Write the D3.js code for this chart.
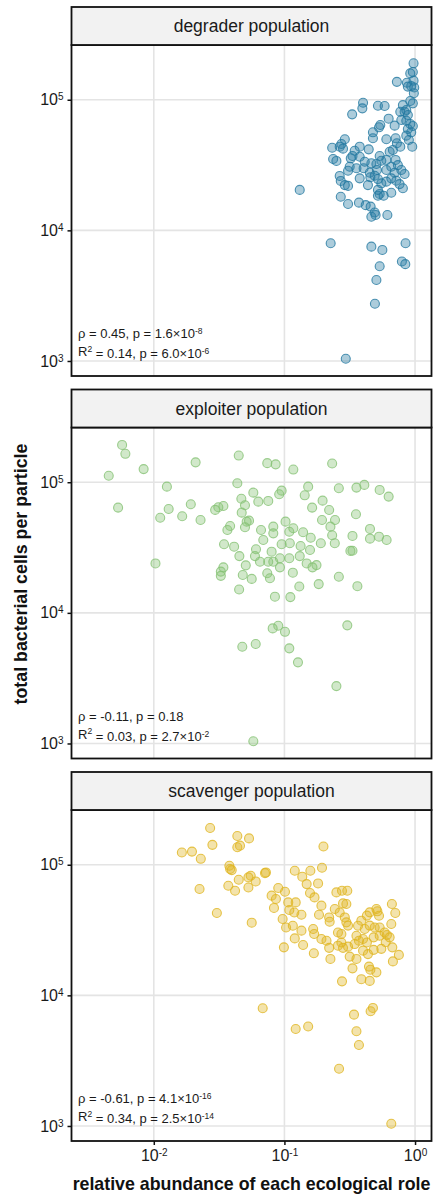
<!DOCTYPE html>
<html>
<head>
<meta charset="utf-8">
<script src="https://cdn.jsdelivr.net/npm/d3@7"></script>
<style>
  body { margin: 0; background: #fff; }
  svg { display: block; }
  text { font-family: "Liberation Sans", Arial, Helvetica, sans-serif; }
</style>
</head>
<body>
<svg id="chart" width="433" height="1194"></svg>
<script>
// ---- data -------------------------------------------------------------
const populations = ["degrader population", "exploiter population", "scavenger population"];
const popColors = ["#2479a1", "#86c274", "#e0b521"];

// relative abundance (x) and total cells per particle (y), one array pair per role
const degraderX = [0.974,0.919,0.962,0.866,0.974,0.726,0.935,0.986,0.881,0.979,
  0.919,0.400,0.395,0.330,0.520,0.585,0.807,0.962,0.771,0.832,
  0.881,0.628,0.698,0.785,0.857,0.919,0.962,0.881,0.935,0.857,
  0.542,0.530,0.476,0.476,0.603,0.710,0.726,0.771,0.677,0.639,
  0.290,0.273,0.265,0.232,0.281,0.442,0.377,0.345,0.332,0.322,
  0.377,0.236,0.250,0.536,0.552,0.506,0.463,0.603,0.710,0.739,
  0.785,0.832,0.316,0.307,0.356,0.404,0.450,0.491,0.520,0.552,
  0.265,0.270,0.290,0.307,0.377,0.436,0.455,0.603,0.658,0.718,
  0.761,0.807,0.520,0.536,0.520,0.575,0.658,0.131,0.270,0.307,
  0.372,0.419,0.457,0.491,0.614,0.658,0.698,0.412,0.603,0.511,
  0.857,0.897,0.952,0.463,0.499,0.226,0.463,0.562,0.846,0.793,
  0.842,0.536,0.506,0.493,0.295];
const degraderY = [190000,159000,163000,135000,140000,137000,127000,124000,126000,112000,
  97700,94800,85900,77300,90000,89500,91000,93800,80900,80900,
  76400,71600,63300,70000,69100,65200,62900,59700,56300,53100,
  64000,61500,56300,50700,49800,50700,46400,43700,41200,40000,
  49800,45800,43700,42900,42200,41700,43700,40700,37100,35600,
  36600,35200,34000,37100,34100,32200,32600,34600,34600,31600,
  29000,27000,30700,28600,29900,29900,27600,26200,24700,22900,
  26100,23900,22200,21900,25000,22200,25500,23600,25000,24000,
  22600,21000,20400,19000,18400,18400,19400,20400,18100,15900,
  16300,15600,15200,13700,13100,30700,27600,33500,29000,29000,
  83400,49200,43700,12700,13100,7960,7500,7080,7960,5770,
  5510,5310,4170,2740,1040];

const exploiterX = [0.00572,0.00606,0.00836,0.00452,0.0209,0.0447,0.0126,0.0436,0.00533,0.0130,
  0.0112,0.0165,0.0192,0.0228,0.0295,0.0312,0.0341,0.0468,0.0499,0.0471,
  0.0384,0.0366,0.0514,0.0499,0.0345,0.0412,0.0452,0.0506,0.0341,0.0326,
  0.0326,0.0480,0.0450,0.0103,0.0739,0.0857,0.117,0.232,0.152,0.143,
  0.261,0.356,0.409,0.536,0.628,0.0952,0.0912,0.0578,0.0631,0.0752,
  0.196,0.163,0.220,0.353,0.194,0.244,0.225,0.102,0.0536,0.0662,
  0.0822,0.0822,0.117,0.109,0.139,0.159,0.190,0.232,0.243,0.332,
  0.452,0.452,0.530,0.606,0.332,0.320,0.0689,0.0606,0.0798,0.0952,
  0.110,0.133,0.157,0.0595,0.0650,0.0752,0.0822,0.0924,0.109,0.131,
  0.148,0.164,0.176,0.0562,0.0739,0.0775,0.0924,0.116,0.261,0.130,
  0.183,0.362,0.0846,0.111,0.0813,0.0897,0.101,0.0476,0.0603,0.109,
  0.127,0.303,0.250,0.0578];
const exploiterY = [193000,165000,126000,112000,142000,160000,92500,98300,63900,62400,
  53500,54900,67800,51400,61400,64300,65800,74800,66600,58500,
  46200,43100,49900,45200,33500,32100,27200,23100,22300,20700,
  19200,19500,15100,23900,140000,137000,125000,139000,92500,79400,
  90000,91000,95400,87300,77600,86200,80900,83200,71000,71900,
  72300,63900,61300,56900,51400,51400,45700,49900,50800,43100,
  45700,40600,44400,41800,41400,37600,34100,39300,34100,38800,
  43900,37000,38300,36100,29900,29800,36100,30700,29400,33500,
  34100,32500,30300,27200,24600,24600,24600,26200,26200,27200,
  23900,22300,23200,18200,20100,18400,22300,20300,18900,15900,
  16600,16000,13300,13200,7600,7960,7160,5500,5770,5350,
  4180,8020,2750,1040];

const scavengerX = [0.0270,0.0164,0.0196,0.0229,0.0281,0.0436,0.0536,0.0436,0.0457,0.0224,
  0.0379,0.0384,0.0395,0.0447,0.0372,0.0419,0.0530,0.0552,0.0530,0.0603,
  0.0710,0.0722,0.0304,0.0562,0.0897,0.101,0.0798,0.0861,0.0832,0.120,
  0.107,0.122,0.109,0.119,0.0969,0.103,0.116,0.120,0.0991,0.199,
  0.137,0.158,0.194,0.148,0.181,0.157,0.170,0.192,0.135,0.184,
  0.135,0.166,0.169,0.139,0.168,0.192,0.210,0.220,0.225,0.220,
  0.222,0.243,0.250,0.276,0.303,0.265,0.281,0.298,0.290,0.298,
  0.307,0.257,0.273,0.257,0.281,0.307,0.273,0.316,0.332,0.276,
  0.366,0.356,0.388,0.428,0.450,0.506,0.515,0.530,0.412,0.450,
  0.491,0.536,0.372,0.400,0.428,0.482,0.536,0.585,0.609,0.639,
  0.658,0.665,0.706,0.400,0.436,0.482,0.552,0.670,0.677,0.752,
  0.356,0.444,0.455,0.506,0.388,0.450,0.596,0.345,0.0682,0.122,
  0.152,0.341,0.457,0.476,0.356,0.372,0.262,0.658];
const scavengerY = [191000,124000,126000,111000,142000,166000,159000,136000,140000,65200,
  98300,92700,91000,76800,69100,63200,80000,82400,67000,74500,
  86300,87300,42700,36000,66400,62100,58000,54700,46700,90000,
  51500,51500,45000,43100,38400,33100,34100,27300,23300,138000,
  81000,90000,94800,71100,71900,60700,56200,48600,41400,41400,
  31300,32200,29500,24300,21000,27000,26200,23100,19000,39500,
  36600,45800,61400,63200,63200,43100,50600,50000,39500,36200,
  34200,30300,29500,24000,23100,23600,25400,19800,16100,12800,
  34100,28600,37300,40800,43200,45800,44000,40700,32200,34200,
  33100,33100,26200,27000,25400,27800,28600,30300,29000,27800,
  35200,50000,42700,22000,20700,22300,22700,23300,18200,20400,
  19000,16600,15700,15000,13300,12900,25500,24700,7960,5530,
  5770,7120,7550,8010,5310,4170,2740,1040];

const seriesX = [degraderX, exploiterX, scavengerX];
const seriesY = [degraderY, exploiterY, scavengerY];

// correlation statistics printed in each panel
const rhoValues = ["0.45", "-0.11", "-0.61"];
const rhoPMant  = ["1.6", "0.18", "4.1"];
const rhoPExp   = ["-8", "", "-16"];
const r2Values  = ["0.14", "0.03", "0.34"];
const r2PMant   = ["6.0", "2.7", "2.5"];
const r2PExp    = ["-6", "-2", "-14"];

// axis breaks
const xTicks = [1e-2, 1e-1, 1e0];
const yTicks = [1e3, 1e4, 1e5];
const xDomain = [Math.pow(10, -2.63), Math.pow(10, 0.126)];
const yDomain = [Math.pow(10, 2.885), Math.pow(10, 5.419)];

// ---- layout -----------------------------------------------------------
const plotLeft = 71.5, plotRight = 431.5;
const firstTop = 7, panelStep = 382.5, stripH = 38, plotH = 331;

const svg = d3.select("#chart");

const x = d3.scaleLog().domain(xDomain).range([plotLeft, plotRight]);
const y = d3.scaleLog().domain(yDomain).range([plotH, 0]);

function supText(sel, base, exp, supSize) {
  sel.append("tspan").text(base);
  if (exp) sel.append("tspan").attr("dy", "-0.5em").attr("font-size", supSize).text(exp);
}

populations.forEach((name, i) => {
  const top = firstTop + i * panelStep;
  const g = svg.append("g").attr("transform", `translate(0,${top + stripH})`);

  // panel background and grid
  g.append("rect").attr("x", plotLeft).attr("y", 0)
    .attr("width", plotRight - plotLeft).attr("height", plotH).attr("fill", "#fff");
  g.append("g").selectAll("line").data(xTicks).join("line")
    .attr("x1", d => x(d)).attr("x2", d => x(d))
    .attr("y1", 0).attr("y2", plotH)
    .attr("stroke", "#e4e4e4").attr("stroke-width", 1.6);
  g.append("g").selectAll("line").data(yTicks).join("line")
    .attr("x1", plotLeft).attr("x2", plotRight)
    .attr("y1", d => y(d)).attr("y2", d => y(d))
    .attr("stroke", "#e4e4e4").attr("stroke-width", 1.6);

  // points
  const pts = seriesX[i].map((v, k) => ({ x: v, y: seriesY[i][k] }));
  g.append("g").selectAll("circle").data(pts).join("circle")
    .attr("cx", d => x(d.x)).attr("cy", d => y(d.y)).attr("r", 4.5)
    .attr("fill", popColors[i]).attr("fill-opacity", 0.38)
    .attr("stroke", popColors[i]).attr("stroke-opacity", 0.8)
    .attr("stroke-width", 1.1);

  // statistics
  const t1 = g.append("text").attr("x", 78).attr("y", plotH - 38)
    .attr("font-size", 13).attr("fill", "#1a1a1a");
  supText(t1, `ρ = ${rhoValues[i]}, p = ${rhoPMant[i]}${rhoPExp[i] ? "×10" : ""}`, rhoPExp[i], 8.5);
  const t2 = g.append("text").attr("x", 78).attr("y", plotH - 20)
    .attr("font-size", 13).attr("fill", "#1a1a1a");
  t2.append("tspan").text("R");
  t2.append("tspan").attr("dy", "-0.5em").attr("font-size", 8.5).text("2");
  t2.append("tspan").attr("dy", "0.5em").text(` = ${r2Values[i]}, p = ${r2PMant[i]}×10`);
  t2.append("tspan").attr("dy", "-0.5em").attr("font-size", 8.5).text(r2PExp[i]);

  // y axis
  const ay = g.append("g").attr("transform", `translate(${plotLeft},0)`)
    .call(d3.axisLeft(y).tickValues(yTicks).tickSize(4).tickPadding(4));
  ay.select(".domain").remove();
  ay.selectAll(".tick line").attr("stroke", "#111").attr("stroke-width", 1.5);
  ay.selectAll(".tick text").attr("font-size", 16).attr("fill", "#1a1a1a")
    .attr("font-family", "Liberation Sans, Arial, sans-serif")
    .text(null)
    .each(function (d) { supText(d3.select(this), "10", String(Math.round(Math.log10(d))), 10); });

  // panel border
  g.append("rect").attr("x", plotLeft).attr("y", 0)
    .attr("width", plotRight - plotLeft).attr("height", plotH)
    .attr("fill", "none").attr("stroke", "#111").attr("stroke-width", 1.8);

  // strip
  svg.append("rect").attr("x", plotLeft).attr("y", top)
    .attr("width", plotRight - plotLeft).attr("height", stripH)
    .attr("fill", "#f2f2f2").attr("stroke", "#111").attr("stroke-width", 1.8);
  svg.append("text").attr("x", (plotLeft + plotRight) / 2).attr("y", top + stripH / 2 + 6)
    .attr("text-anchor", "middle").attr("font-size", 17.5).attr("fill", "#1a1a1a")
    .text(name);

  // x axis on the bottom panel only
  if (i === populations.length - 1) {
    const ax = g.append("g").attr("transform", `translate(0,${plotH})`)
      .call(d3.axisBottom(x).tickValues(xTicks).tickSize(4).tickPadding(5));
    ax.select(".domain").remove();
    ax.selectAll(".tick line").attr("stroke", "#111").attr("stroke-width", 1.5);
    ax.selectAll(".tick text").attr("font-size", 16).attr("fill", "#1a1a1a")
      .attr("font-family", "Liberation Sans, Arial, sans-serif")
      .text(null)
      .each(function (d) { supText(d3.select(this), "10", String(Math.round(Math.log10(d))), 10); });
  }
});

// axis titles
svg.append("text")
  .attr("x", (plotLeft + plotRight) / 2).attr("y", 1190)
  .attr("text-anchor", "middle").attr("font-size", 17.8).attr("font-weight", "bold")
  .attr("fill", "#111")
  .text("relative abundance of each ecological role");

svg.append("text")
  .attr("transform", `translate(27,574) rotate(-90)`)
  .attr("text-anchor", "middle").attr("font-size", 17.8).attr("font-weight", "bold")
  .attr("fill", "#111")
  .text("total bacterial cells per particle");
</script>
</body>
</html>
